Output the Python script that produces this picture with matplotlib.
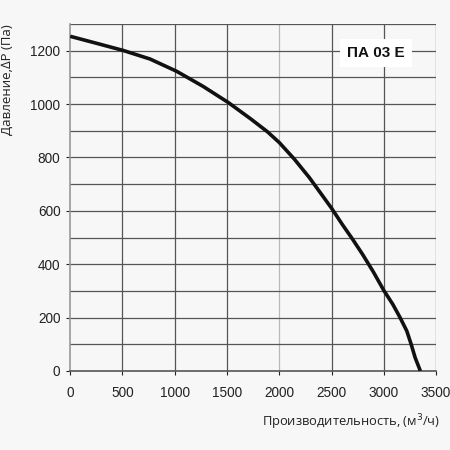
import numpy as np
import matplotlib
matplotlib.use("Agg")
import matplotlib.pyplot as plt

# кривая вентилятора ПА 03 E
flow = [0, 250, 507, 763, 1018, 1273, 1512, 1729, 1888, 2000, 2144, 2287,
        2415, 2500, 2605, 2701, 2797, 2899, 3000, 3086, 3156, 3220, 3262,
        3300, 3350]
pressure = [1254, 1228, 1201, 1169, 1123, 1066, 1006, 944, 896, 856, 794, 725,
            656, 610, 548, 494, 437, 372, 302, 250, 200, 150, 100,
            50, 0]

x_ticks = [0, 500, 1000, 1500, 2000, 2500, 3000, 3500]
y_ticks = [0, 200, 400, 600, 800, 1000, 1200]
title = "ПА 03 E"
bg = "#f7f7f7"

plt.rcParams['font.family'] = ['Liberation Sans', 'DejaVu Sans']

fig = plt.figure(figsize=(4.5, 4.5), dpi=100, facecolor=bg)
ax = fig.add_axes([0.156, 0.1756, 0.813, 0.771], facecolor=bg)

ax.set_xlim(0, 3500)
ax.set_ylim(0, 1300)

# сетка: вертикальные через 500, горизонтальные через 100
for xv in range(500, 3501, 500):
    c = "#b8b8b8" if xv == 2000 else "#555555"
    ax.axvline(xv, color=c, lw=0.9, zorder=1)
for yv in range(100, 1301, 100):
    ax.axhline(yv, color="#555555", lw=0.9, zorder=1)

ax.plot(flow, pressure, color="#111111", lw=2.6, solid_capstyle="butt",
        solid_joinstyle="round", zorder=3)

ax.set_xticks(x_ticks)
ax.set_yticks(y_ticks)
ax.tick_params(axis="both", labelsize=9.8, colors="#222222", length=3, width=0.8)
ax.tick_params(axis="x", pad=8)
ax.tick_params(axis="y", pad=4)

for side in ["top", "right"]:
    ax.spines[side].set_visible(False)
ax.spines["left"].set_color("#999999")
ax.spines["left"].set_linewidth(1.2)
ax.spines["bottom"].set_color("#555555")
ax.spines["bottom"].set_linewidth(1.2)

ax.text(2926, 1192, title, fontsize=11, fontweight="bold", ha="center", va="center",
        color="#111111", zorder=4,
        bbox=dict(facecolor="white", edgecolor="none", boxstyle="square,pad=0.45"))

fig.text(0.016, 0.946, "Давление,∆P (Па)", rotation=90, ha="center", va="top",
         fontsize=9.5, color="#222222", family=["Open Sans", "DejaVu Sans"])
fig.text(0.978, 0.062, "Производительность, (м$^3$/ч)", ha="right", va="center",
         fontsize=9.3, color="#222222", family=["Open Sans", "DejaVu Sans"])

fig.savefig("out.png", dpi=100, facecolor=bg)
